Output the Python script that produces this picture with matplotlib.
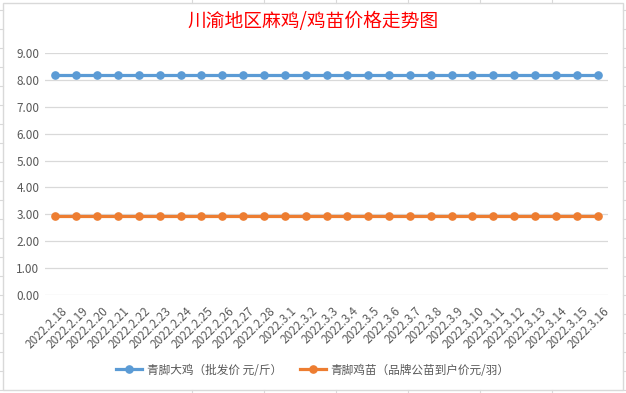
import matplotlib
matplotlib.use("Agg")
import matplotlib.pyplot as plt
import matplotlib.transforms as mtransforms
from matplotlib.lines import Line2D
from matplotlib.patches import Rectangle

plt.rcParams["font.family"] = ["Noto Sans CJK SC", "DejaVu Sans"]

# data
dates = ["2022.2.%d" % d for d in range(18, 29)] + ["2022.3.%d" % d for d in range(1, 17)]
big_chicken = [8.2] * len(dates)      # 青脚大鸡（批发价 元/斤）
chick = [2.95] * len(dates)           # 青脚鸡苗（品牌公苗到户价元/羽）
labels = ["青脚大鸡（批发价 元/斤）", "青脚鸡苗（品牌公苗到户价元/羽）"]
title = "川渝地区麻鸡/鸡苗价格走势图"
yticks = [0, 1, 2, 3, 4, 5, 6, 7, 8, 9]

BLUE = "#5B9BD5"
ORANGE = "#ED7D31"
GRID = "#D9D9D9"
TXT = "#595959"

W, H = 626, 393
fig = plt.figure(figsize=(W / 100, H / 100), dpi=100)

# chart frame + bits of the spreadsheet cells behind it
fig.patches.append(Rectangle((3 / W, 1 - 390 / H), 620 / W, 387 / H, transform=fig.transFigure,
                             fill=False, edgecolor=GRID, lw=1))
for x in (192, 264, 336, 408, 480, 552):
    fig.add_artist(Line2D([x / W, x / W], [1, 1 - 3 / H], color=GRID, lw=0.8))
    fig.add_artist(Line2D([x / W, x / W], [0, 3 / H], color=GRID, lw=0.8))
for y in range(10, 393, 19):
    fig.add_artist(Line2D([0, 3 / W], [1 - y / H, 1 - y / H], color=GRID, lw=0.8))
    fig.add_artist(Line2D([1 - 3 / W, 1], [1 - y / H, 1 - y / H], color=GRID, lw=0.8))

ax = fig.add_axes([45 / W, 1 - 295 / H, (608 - 45) / W, (295 - 53) / H])
x = range(len(dates))
ax.plot(x, big_chicken, color=BLUE, lw=2.3, marker="o", ms=5.2, label=labels[0])
ax.plot(x, chick, color=ORANGE, lw=2.3, marker="o", ms=5.2, label=labels[1])

ax.set_xlim(-0.5, len(dates) - 0.5)
ax.set_ylim(0, 9)
ax.set_yticks(yticks)
ax.set_yticklabels(["%.2f" % v for v in yticks], fontsize=8.5, color=TXT)
ax.set_xticks(list(x))
ax.set_xticklabels(dates, rotation=45, ha="right", va="top", rotation_mode="anchor",
                   fontsize=8.5, color=TXT)
ax.tick_params(length=0, pad=4)
ax.tick_params(axis="x", pad=7)
shift = mtransforms.ScaledTranslation(5 / 100, 0, fig.dpi_scale_trans)
for lab in ax.get_xticklabels():
    lab.set_transform(lab.get_transform() + shift)
ax.grid(axis="y", color=GRID, lw=0.9)
ax.set_axisbelow(True)
for s in ax.spines.values():
    s.set_visible(False)

fig.text(0.5, 1 - 22 / H, title, ha="center", va="center", fontsize=13.5, color="#FF0000",
         fontweight="medium")
fig.legend(loc="center", bbox_to_anchor=(0.5, 1 - 370 / H), ncol=2, frameon=False,
           fontsize=8.4, labelcolor=TXT, handlelength=2.2, handletextpad=0.4,
           columnspacing=1.6)

fig.savefig("out.png", dpi=100)
